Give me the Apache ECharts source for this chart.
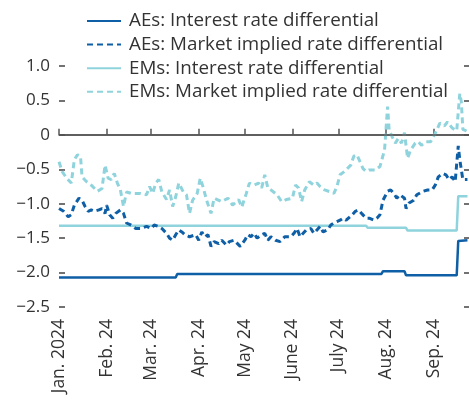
<!DOCTYPE html>
<html>
<head>
<meta charset="utf-8">
<script src="https://cdn.jsdelivr.net/npm/echarts@6/dist/echarts.min.js"></script>
<style>
  html, body { margin: 0; padding: 0; background: #fff; }
  #chart { width: 469px; height: 405px; }
</style>
</head>
<body>
<div id="chart"></div>
<script>
// Month tick labels shown on the horizontal axis (one per month start)
const monthStarts = ['2024-01-01', '2024-02-01', '2024-03-01', '2024-04-01', '2024-05-01',
  '2024-06-01', '2024-07-01', '2024-08-01', '2024-09-01'];
const monthLabels = ['Jan. 2024', 'Feb. 24', 'Mar. 24', 'Apr. 24', 'May 24',
  'June 24', 'July 24', 'Aug. 24', 'Sep. 24'];
const axisStart = '2024-01-01';
const axisEnd = '2024-09-24';

// Vertical axis ticks
const yTicks = [1.0, 0.5, 0, -0.5, -1.0, -1.5, -2.0, -2.5];

// AEs: policy interest rate differential (step series)
const aeRateDates = ['2024-01-01', '2024-03-17', '2024-03-18', '2024-07-29', '2024-07-30',
  '2024-08-13', '2024-08-14', '2024-09-16', '2024-09-17', '2024-09-23'];
const aeRateValues = [-2.07, -2.07, -2.02, -2.02, -1.98, -1.98, -2.04, -2.04, -1.54, -1.53];

// EMs: policy interest rate differential (step series)
const emRateDates = ['2024-01-01', '2024-07-19', '2024-07-20', '2024-08-14', '2024-08-15',
  '2024-09-16', '2024-09-17', '2024-09-23'];
const emRateValues = [-1.32, -1.32, -1.35, -1.35, -1.39, -1.39, -0.89, -0.89];

// AEs: market implied rate differential
const aeMarketDates = ['2024-01-01', '2024-01-04', '2024-01-07', '2024-01-09', '2024-01-11', '2024-01-14',
  '2024-01-16', '2024-01-18', '2024-01-20', '2024-01-22', '2024-01-24', '2024-01-27', '2024-01-29',
  '2024-01-31', '2024-02-01', '2024-02-03', '2024-02-05', '2024-02-07', '2024-02-10', '2024-02-12',
  '2024-02-14', '2024-02-17', '2024-02-20', '2024-02-23', '2024-02-27', '2024-03-01', '2024-03-03',
  '2024-03-06', '2024-03-08', '2024-03-11', '2024-03-13', '2024-03-15', '2024-03-17', '2024-03-19',
  '2024-03-21', '2024-03-23', '2024-03-26', '2024-03-30', '2024-04-01', '2024-04-03', '2024-04-05',
  '2024-04-07', '2024-04-09', '2024-04-11', '2024-04-14', '2024-04-16', '2024-04-19', '2024-04-21',
  '2024-04-24', '2024-04-28', '2024-05-01', '2024-05-03', '2024-05-05', '2024-05-07', '2024-05-09',
  '2024-05-12', '2024-05-14', '2024-05-16', '2024-05-18', '2024-05-21', '2024-05-24', '2024-05-27',
  '2024-05-31', '2024-06-02', '2024-06-04', '2024-06-06', '2024-06-08', '2024-06-10', '2024-06-13',
  '2024-06-15', '2024-06-17', '2024-06-19', '2024-06-21', '2024-06-24', '2024-06-26', '2024-06-28',
  '2024-06-30', '2024-07-02', '2024-07-04', '2024-07-06', '2024-07-10', '2024-07-12', '2024-07-14',
  '2024-07-16', '2024-07-19', '2024-07-21', '2024-07-24', '2024-07-26', '2024-07-28', '2024-07-30',
  '2024-08-02', '2024-08-04', '2024-08-06', '2024-08-08', '2024-08-10', '2024-08-13', '2024-08-14',
  '2024-08-16', '2024-08-19', '2024-08-21', '2024-08-25', '2024-08-28', '2024-08-31', '2024-09-02',
  '2024-09-04', '2024-09-07', '2024-09-09', '2024-09-11', '2024-09-13', '2024-09-15', '2024-09-17',
  '2024-09-18', '2024-09-20', '2024-09-23'];
const aeMarketValues = [-1.07, -1.11, -1.19, -1.16, -1.02, -0.92,
  -0.95, -1.04, -1.11, -1.09, -1.11, -1.09, -1.07,
  -1.14, -1.02, -1.16, -1.21, -1.14, -1.09, -1.14,
  -1.28, -1.31, -1.36, -1.36, -1.33, -1.36, -1.31,
  -1.33, -1.36, -1.43, -1.50, -1.53, -1.45, -1.38,
  -1.41, -1.45, -1.48, -1.45, -1.53, -1.41, -1.48,
  -1.45, -1.62, -1.55, -1.58, -1.53, -1.60, -1.55,
  -1.53, -1.62, -1.53, -1.45, -1.48, -1.43, -1.50,
  -1.45, -1.43, -1.53, -1.48, -1.53, -1.55, -1.48,
  -1.48, -1.43, -1.36, -1.48, -1.43, -1.38, -1.36,
  -1.43, -1.38, -1.33, -1.41, -1.38, -1.31, -1.28,
  -1.26, -1.24, -1.21, -1.24, -1.16, -1.11, -1.09,
  -1.14, -1.21, -1.21, -1.24, -1.21, -1.16, -0.95,
  -0.82, -0.80, -0.85, -0.92, -0.87, -0.92, -1.07,
  -0.99, -0.95, -0.87, -0.82, -0.80, -0.80, -0.73,
  -0.61, -0.56, -0.58, -0.65, -0.61, -0.68, -0.16,
  -0.36, -0.65, -0.65];

// EMs: market implied rate differential
const emMarketDates = ['2024-01-01', '2024-01-03', '2024-01-06', '2024-01-09', '2024-01-11', '2024-01-13',
  '2024-01-15', '2024-01-16', '2024-01-19', '2024-01-22', '2024-01-26', '2024-01-29', '2024-01-31',
  '2024-02-02', '2024-02-04', '2024-02-06', '2024-02-08', '2024-02-10', '2024-02-12', '2024-02-14',
  '2024-02-17', '2024-02-20', '2024-02-23', '2024-02-27', '2024-02-29', '2024-03-02', '2024-03-04',
  '2024-03-06', '2024-03-08', '2024-03-11', '2024-03-13', '2024-03-15', '2024-03-17', '2024-03-19',
  '2024-03-22', '2024-03-24', '2024-03-26', '2024-03-28', '2024-03-31', '2024-04-02', '2024-04-04',
  '2024-04-06', '2024-04-09', '2024-04-11', '2024-04-13', '2024-04-16', '2024-04-20', '2024-04-23',
  '2024-04-27', '2024-04-29', '2024-05-02', '2024-05-04', '2024-05-07', '2024-05-10', '2024-05-12',
  '2024-05-14', '2024-05-16', '2024-05-18', '2024-05-22', '2024-05-25', '2024-05-28', '2024-06-01',
  '2024-06-03', '2024-06-05', '2024-06-07', '2024-06-09', '2024-06-12', '2024-06-15', '2024-06-17',
  '2024-06-19', '2024-06-22', '2024-06-26', '2024-06-28', '2024-06-30', '2024-07-02', '2024-07-05',
  '2024-07-09', '2024-07-11', '2024-07-13', '2024-07-15', '2024-07-17', '2024-07-19', '2024-07-21',
  '2024-07-25', '2024-07-28', '2024-07-31', '2024-08-02', '2024-08-03', '2024-08-05', '2024-08-07',
  '2024-08-09', '2024-08-11', '2024-08-13', '2024-08-15', '2024-08-17', '2024-08-20', '2024-08-22',
  '2024-08-24', '2024-08-27', '2024-08-30', '2024-09-02', '2024-09-05', '2024-09-08', '2024-09-10',
  '2024-09-13', '2024-09-16', '2024-09-18', '2024-09-19', '2024-09-20', '2024-09-23'];
const emMarketValues = [-0.39, -0.53, -0.63, -0.70, -0.36, -0.29,
  -0.31, -0.61, -0.68, -0.73, -0.82, -0.78, -0.44,
  -0.63, -0.65, -0.56, -0.70, -0.80, -1.04, -0.83,
  -0.85, -0.85, -0.85, -0.87, -0.75, -0.85, -0.70,
  -0.65, -0.83, -0.94, -0.80, -1.04, -0.90, -0.70,
  -0.83, -0.87, -1.14, -0.95, -0.85, -0.63, -0.77,
  -0.94, -1.14, -0.92, -0.94, -0.97, -0.92, -1.02,
  -0.94, -1.05, -0.85, -0.70, -0.73, -0.70, -0.77,
  -0.58, -0.77, -0.80, -0.87, -0.97, -0.94, -0.92,
  -0.73, -0.77, -0.97, -0.80, -0.68, -0.73, -0.70,
  -0.75, -0.80, -0.83, -0.85, -0.75, -0.58, -0.53,
  -0.44, -0.31, -0.29, -0.39, -0.49, -0.53, -0.51,
  -0.51, -0.46, -0.22, 0.41, 0.07, -0.03, -0.12,
  -0.05, -0.12, 0.03, -0.34, -0.22, -0.12, -0.10,
  -0.15, -0.10, -0.10, 0.02, 0.17, 0.13, 0.19,
  0.10, 0.06, 0.60, 0.48, 0.08, 0.05];

const DARK = '#0f5fa6';
const LIGHT = '#8fd3dd';
const FONT = '"Open Sans", "Noto Sans", sans-serif';

// Calendar days spanning the horizontal axis
function dayList(from, to) {
  const out = [];
  const d = new Date(from + 'T00:00:00Z');
  const end = new Date(to + 'T00:00:00Z');
  while (d <= end) {
    out.push(d.toISOString().slice(0, 10));
    d.setUTCDate(d.getUTCDate() + 1);
  }
  return out;
}
const days = dayList(axisStart, axisEnd);

function pairs(dates, values) {
  return dates.map((d, i) => [d, values[i]]);
}

function fmtY(v) {
  if (Math.abs(v) < 1e-9) return '0';
  const s = Math.abs(v).toFixed(1);
  return (v < 0 ? '\u2212' : '') + s;
}

const chart = echarts.init(document.getElementById('chart'), null, { renderer: 'canvas' });

chart.setOption({
  animation: false,
  backgroundColor: '#fff',
  textStyle: { fontFamily: FONT },
  grid: { left: 59, right: 0, top: 66, bottom: 98, containLabel: false },
  legend: {
    orient: 'vertical',
    left: 81,
    top: 6,
    itemWidth: 34,
    itemHeight: 14,
    itemGap: 3.6,
    selectedMode: false,
    itemStyle: { opacity: 0 },
    textStyle: { fontFamily: FONT, fontSize: 18.8, color: '#333', lineHeight: 20, padding: [0, 0, 0, 3] },
    data: [
      'AEs: Interest rate differential',
      'AEs: Market implied rate differential',
      'EMs: Interest rate differential',
      'EMs: Market implied rate differential'
    ]
  },
  xAxis: {
    type: 'category',
    data: days,
    boundaryGap: false,
    axisLine: { show: true, lineStyle: { color: '#555', width: 1.5 } },
    axisTick: {
      show: true,
      inside: true,
      length: 6,
      lineStyle: { color: '#555', width: 1.5 },
      interval: (i, v) => monthStarts.indexOf(v) >= 0
    },
    axisLabel: {
      show: true,
      rotate: 90,
      margin: 12,
      fontSize: 17.5,
      color: '#333',
      fontFamily: FONT,
      interval: (i, v) => monthStarts.indexOf(v) >= 0,
      formatter: (v) => {
        const k = monthStarts.indexOf(v);
        return k >= 0 ? monthLabels[k] : '';
      }
    },
    splitLine: { show: false }
  },
  yAxis: [
    {
      type: 'value',
      min: yTicks[yTicks.length - 1],
      max: yTicks[0],
      interval: 0.5,
      axisLine: { show: false },
      axisTick: { show: true, inside: true, length: 6, lineStyle: { color: '#444', width: 1.5 } },
      axisLabel: { show: true, margin: 9, fontSize: 17, color: '#333', fontFamily: FONT, formatter: fmtY },
      splitLine: { show: false }
    },
    {
      type: 'value',
      position: 'right',
      min: yTicks[yTicks.length - 1],
      max: yTicks[0],
      interval: 0.5,
      axisLine: { show: false },
      axisTick: { show: true, inside: true, length: 5, lineStyle: { color: '#444', width: 1.5 } },
      axisLabel: { show: false },
      splitLine: { show: false }
    }
  ],
  series: [
    {
      name: 'AEs: Interest rate differential',
      type: 'line',
      data: pairs(aeRateDates, aeRateValues),
      symbol: 'none',
      color: DARK,
      lineStyle: { color: DARK, width: 2.5, type: 'solid' },
      z: 4,
      markLine: {
        silent: true,
        symbol: 'none',
        label: { show: false },
        lineStyle: { color: '#555', width: 1.5, type: 'solid' },
        data: [{ yAxis: 0 }]
      }
    },
    {
      name: 'AEs: Market implied rate differential',
      type: 'line',
      data: pairs(aeMarketDates, aeMarketValues),
      symbol: 'none',
      color: DARK,
      lineStyle: { color: DARK, width: 3, type: [6, 4] },
      z: 3
    },
    {
      name: 'EMs: Interest rate differential',
      type: 'line',
      data: pairs(emRateDates, emRateValues),
      symbol: 'none',
      color: LIGHT,
      lineStyle: { color: LIGHT, width: 2.5, type: 'solid' },
      z: 2
    },
    {
      name: 'EMs: Market implied rate differential',
      type: 'line',
      data: pairs(emMarketDates, emMarketValues),
      symbol: 'none',
      color: LIGHT,
      lineStyle: { color: LIGHT, width: 3, type: [6, 4] },
      z: 1
    }
  ]
});
</script>
</body>
</html>
